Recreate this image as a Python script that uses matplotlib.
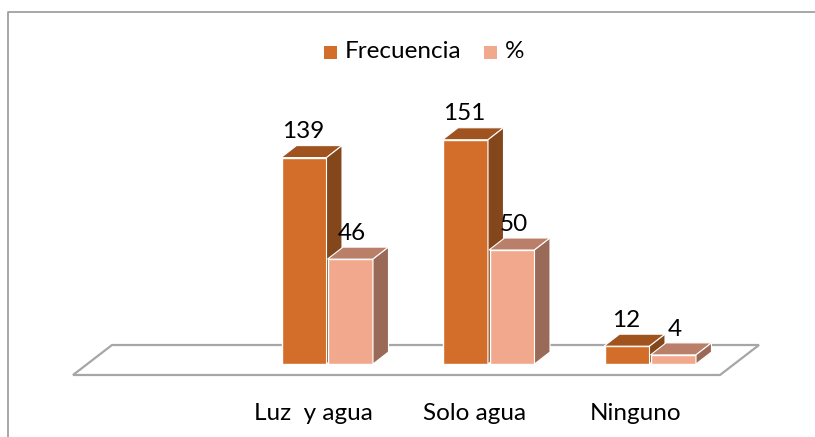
import matplotlib
matplotlib.use("Agg")
import matplotlib.pyplot as plt
from matplotlib.patches import Polygon, Rectangle
from matplotlib.lines import Line2D

categories = ['Luz  y agua', 'Solo agua', 'Ninguno']
frecuencia = [139, 151, 12]
porcentaje = [46, 50, 4]

plt.rcParams['font.family'] = ['Lato', 'DejaVu Sans']

W, H = 815, 437
fig = plt.figure(figsize=(W / 100, H / 100), dpi=100)

# frame of the chart area: only top and left reach inside the picture
fig.add_artist(Line2D([8 / W, 8 / W, 1], [0, 1 - 12 / H, 1 - 12 / H], transform=fig.transFigure,
                      color='#a0a0a0', lw=1.3))

# category spacing 161.5 px, baseline at y=364 px
step = 161.5
bar_w = 46.5 / step
dep_x = 15.5 / step
dep_y = 12


def make_axes(scale):
    ax = fig.add_axes([0, 0, 1, 1])
    ax.set_xlim(-327.5 / step, (W - 327.5) / step)
    ax.set_ylim(-(H - 364) / scale, 364 / scale)
    ax.axis('off')
    ax.patch.set_alpha(0)
    return ax


def bar_3d(ax, x, v, scale, front, top, side):
    d = dep_y / scale
    ax.bar(x, v, bar_w - 1.5 / step, color=front, ec='white', lw=1, zorder=3)
    l, r = x - bar_w / 2, x + bar_w / 2 - 1 / step
    ax.add_patch(Polygon([(l, v), (r, v), (r + dep_x, v + d), (l + dep_x, v + d)],
                         fc=top, ec='white', lw=0.8, zorder=3))
    ax.add_patch(Polygon([(r, 0), (r, v), (r + dep_x, v + d), (r + dep_x, d)],
                         fc=side, ec='white', lw=0.8, zorder=3))


# frecuencia and % each have their own height scale in the picture
scale_f = 1.485
scale_p = 2.28
ax = make_axes(scale_f)
ax2 = make_axes(scale_p)

# floor
floor = [(73, 375), (720, 375), (759, 345), (112, 345)]
ax.add_patch(Polygon([((px - 327.5) / step, (364 - py) / scale_f) for px, py in floor],
                     fc='white', ec='#a6a6a6', lw=1.6, zorder=1))

for i in range(len(categories)):
    bar_3d(ax, i - bar_w / 2, frecuencia[i], scale_f, '#d26d2a', '#a0531f', '#84461b')
    bar_3d(ax2, i + bar_w / 2, porcentaje[i], scale_p, '#f2a88c', '#b97f68', '#9a6a58')
    ax.annotate(str(frecuencia[i]), (i - bar_w / 2, frecuencia[i]), xytext=(-1, 11),
                textcoords='offset points', ha='center', va='bottom', fontsize=17.5, color='black', zorder=5)
    ax2.annotate(str(porcentaje[i]), (i + bar_w / 2, porcentaje[i]), xytext=(1, 11),
                 textcoords='offset points', ha='center', va='bottom', fontsize=17.5, color='black', zorder=5)
    ax2.text(i - 0.09, -(413 - 364) / scale_p, categories[i], ha='center', va='center',
             fontsize=17.5, color='black')

# legend
fig.add_artist(Rectangle((324 / W, 1 - 59 / H), 13 / W, 13 / H, transform=fig.transFigure,
                         fc='#d26d2a', ec='none'))
fig.text(345 / W, 1 - 52 / H, 'Frecuencia', ha='left', va='center', fontsize=17.5)
fig.add_artist(Rectangle((484 / W, 1 - 59 / H), 13 / W, 13 / H, transform=fig.transFigure,
                         fc='#f2a88c', ec='none'))
fig.text(505 / W, 1 - 52 / H, '%', ha='left', va='center', fontsize=17.5)

fig.savefig('out.png', dpi=100)
